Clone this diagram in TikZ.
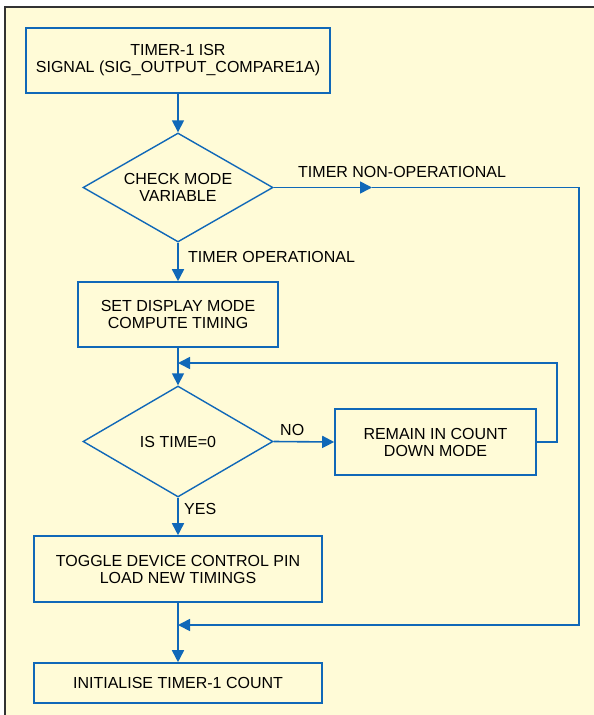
\documentclass[tikz,border=0pt]{standalone}
\usepackage{fontspec}
\setmainfont{Liberation Sans}
\usetikzlibrary{shapes.geometric,arrows.meta}
\definecolor{flowblue}{RGB}{16,104,184}
\definecolor{paper}{RGB}{255,251,215}
\definecolor{framegray}{RGB}{51,51,51}

\begin{document}
\begin{tikzpicture}[x=1pt,y=-1pt,
  every node/.style={font=\fontsize{16}{17}\selectfont, align=center, inner sep=0pt},
  box/.style={draw=flowblue, line width=1.6pt, rectangle},
  decision/.style={draw=flowblue, line width=1.4pt, diamond, aspect=1.75},
  flow/.style={draw=flowblue, line width=1.6pt, -{Triangle[length=12pt,width=12pt]}}]
			\useasboundingbox (0,0) rectangle (594,715);
			\fill[white] (0,0) rectangle (594,715);
			\fill[paper] (5,7) rectangle (594,715);
			\draw[framegray, line width=1.5pt] (5,716) -- (5,7) -- (595,7);
			\node[box, minimum width=304pt, minimum height=65pt] (isr) at (178,60.5) {TIMER-1 ISR\\SIGNAL (SIG\_OUTPUT\_COMPARE1A)};
			\node[decision, minimum width=190pt, minimum height=109pt] (mode) at (178,187.5) {CHECK MODE\\VARIABLE};
			\node[box, minimum width=200pt, minimum height=65pt] (disp) at (178,314.5) {SET DISPLAY MODE\\COMPUTE TIMING};
			\node[decision, minimum width=190pt, minimum height=111pt] (time) at (178,441.5) {IS TIME=0};
			\node[box, minimum width=201pt, minimum height=66pt] (remain) at (435.5,442) {REMAIN IN COUNT\\DOWN MODE};
			\node[box, minimum width=288pt, minimum height=66pt] (toggle) at (178,569) {TOGGLE DEVICE CONTROL PIN\\LOAD NEW TIMINGS};
			\node[box, minimum width=288pt, minimum height=40pt] (init) at (178,683) {INITIALISE TIMER-1 COUNT};
			\coordinate (nonop) at (372,187.5);
			\coordinate (rgt) at (579,625);
			\coordinate (join1) at (178,625);
			\coordinate (lp) at (557,363);
			\coordinate (join2) at (178,363);
			\draw[flow] (isr.south) -- (mode.north);
			\draw[flow] (mode.east) -- (nonop);
			\draw[flow] (nonop) -| (rgt) -- (join1);
			\draw[flow] (mode.south) -- (disp.north);
			\draw[flow] (disp.south) -- (time.north);
			\draw[flow] (time.east) -- (remain.west);
			\draw[flow] (remain.east) -| (lp) -- (join2);
			\draw[flow] (time.south) -- (toggle.north);
			\draw[flow] (toggle.south) -- (init.north);
			\node[anchor=west] (nonoplbl) at (298,172) {TIMER NON-OPERATIONAL};
			\node[anchor=west] (oplbl) at (188,257) {TIMER OPERATIONAL};
			\node[anchor=west] (nolbl) at (280,430) {NO};
			\node[anchor=west] (yeslbl) at (184,509) {YES};
		\end{tikzpicture}
\end{document}
